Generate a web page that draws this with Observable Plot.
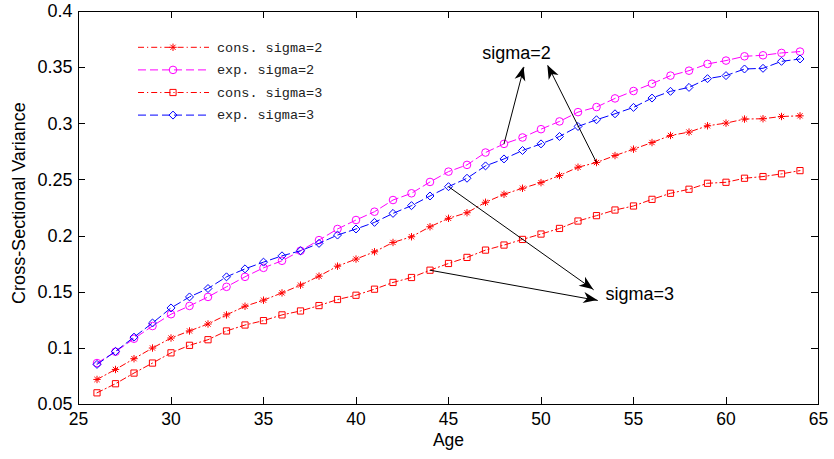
<!DOCTYPE html>
<html><head><meta charset="utf-8">
<script src="https://cdn.jsdelivr.net/npm/d3@7"></script>
<script src="https://cdn.jsdelivr.net/npm/@observablehq/plot@0.6"></script>
<style>body{margin:0;background:#fff}#chart svg{display:block}</style>
</head><body><div id="chart"></div>
<script>
// ---- data ----
const ages = [26,27,28,29,30,31,32,33,34,35,36,37,38,39,40,41,42,43,44,45,46,47,48,49,50,51,52,53,54,55,56,57,58,59,60,61,62,63,64];
const consSigma2 = [0.0723,0.0812,0.0908,0.1003,0.1092,0.1155,0.1217,0.1298,0.1375,0.1429,0.1494,0.1563,0.1643,0.1732,0.1795,0.1860,0.1943,0.1994,0.2083,0.2158,0.2208,0.2301,0.2372,0.2426,0.2476,0.2539,0.2613,0.2655,0.2717,0.2774,0.2833,0.2896,0.2926,0.2982,0.3006,0.3042,0.3045,0.3065,0.3071];
const expSigma2 = [0.0869,0.0970,0.1086,0.1199,0.1304,0.1378,0.1458,0.1548,0.1637,0.1717,0.1780,0.1869,0.1964,0.2063,0.2143,0.2217,0.2321,0.2381,0.2482,0.2574,0.2634,0.2744,0.2821,0.2878,0.2952,0.3021,0.3104,0.3149,0.3226,0.3292,0.3357,0.3429,0.3473,0.3533,0.3563,0.3601,0.3610,0.3631,0.3643];
const consSigma3 = [0.0604,0.0685,0.0780,0.0869,0.0960,0.1027,0.1077,0.1155,0.1208,0.1247,0.1298,0.1333,0.1381,0.1435,0.1473,0.1527,0.1587,0.1631,0.1696,0.1756,0.1810,0.1875,0.1920,0.1970,0.2018,0.2068,0.2134,0.2182,0.2232,0.2268,0.2327,0.2381,0.2417,0.2470,0.2479,0.2515,0.2530,0.2554,0.2583];
const expSigma3 = [0.0857,0.0973,0.1100,0.1226,0.1360,0.1458,0.1533,0.1637,0.1708,0.1768,0.1824,0.1869,0.1935,0.2009,0.2063,0.2122,0.2202,0.2271,0.2357,0.2440,0.2515,0.2625,0.2687,0.2762,0.2821,0.2887,0.2976,0.3036,0.3089,0.3146,0.3229,0.3289,0.3324,0.3402,0.3429,0.3488,0.3494,0.3556,0.3577];
const seriesNames = ["cons. sigma=2","exp. sigma=2","cons. sigma=3","exp. sigma=3"];
const xTicks = [25,30,35,40,45,50,55,60,65];
const yTicks = [0.05,0.1,0.15,0.2,0.25,0.3,0.35,0.4];
const xLabel = "Age";
const yLabel = "Cross-Sectional Variance";
// annotations (data coordinates)
const notes = [
  {label: "sigma=2", x: 48.68, y: 0.363},
  {label: "sigma=3", x: 53.49, y: 0.1481}
];
const arrows = [
  {series: 1, age: 48, tipX: 49.08, tipY: 0.3505},
  {series: 0, age: 53, tipX: 50.37, tipY: 0.3519},
  {series: 3, age: 45, tipX: 52.85, tipY: 0.1521},
  {series: 2, age: 44, tipX: 53.07, tipY: 0.1426}
];

// ---- styles ----
const star8 = {draw(ctx, size) {
  const r = Math.sqrt(size / Math.PI), d = r * Math.SQRT1_2;
  ctx.moveTo(-r, 0); ctx.lineTo(r, 0);
  ctx.moveTo(0, -r); ctx.lineTo(0, r);
  ctx.moveTo(-d, -d); ctx.lineTo(d, d);
  ctx.moveTo(-d, d); ctx.lineTo(d, -d);
}};
const values = [consSigma2, expSigma2, consSigma3, expSigma3];
const colors = ["#ff0000", "#ff00ff", "#ff0000", "#0000ff"];
const dashes = ["6,3,1.2,3", "8,4", "6,3,1.2,3", "8,4"];
const symbols = [star8, d3.symbolCircle, d3.symbolSquare, d3.symbolDiamond2];
const plotSymbols = [star8, "circle", "square", "diamond2"];
const radii = [3.7, 3.8, 3.5, 3.6];

const rows = seriesNames.map((s, k) => ages.map((a, i) => ({age: a, value: values[k][i], series: s})));

const seriesMarks = seriesNames.flatMap((s, k) => [
  Plot.line(rows[k], {x: "age", y: "value", stroke: colors[k], strokeWidth: 1, strokeDasharray: dashes[k]}),
  Plot.dot(rows[k], {x: "age", y: "value", symbol: plotSymbols[k], r: radii[k], stroke: colors[k], fill: "none", strokeWidth: 1})
]);

const arrowRows = arrows.map(a => ({x1: a.age, y1: values[a.series][ages.indexOf(a.age)], x2: a.tipX, y2: a.tipY}));

function arrowHeads(index, scales) {
  const g = d3.create("svg:g");
  for (const a of arrowRows) {
    const x1 = scales.x(a.x1), y1 = scales.y(a.y1), x2 = scales.x(a.x2), y2 = scales.y(a.y2);
    const ang = Math.atan2(y2 - y1, x2 - x1) * 180 / Math.PI;
    g.append("path").attr("d", "M0,0L-14,-5.5L-10,0L-14,5.5Z")
      .attr("transform", `translate(${x2},${y2}) rotate(${ang})`).attr("fill", "black");
  }
  return g.node();
}

// inward tick marks on all four sides (MATLAB box style)
function boxTicks(index, scales, vals, dims) {
  const g = d3.create("svg:g").attr("stroke", "black").attr("stroke-width", 1);
  const L = 7;
  const top = dims.marginTop, bottom = dims.height - dims.marginBottom;
  const left = dims.marginLeft, right = dims.width - dims.marginRight;
  for (const t of xTicks) {
    const x = Math.round(scales.x(t)) + 0.5;
    g.append("line").attr("x1", x).attr("x2", x).attr("y1", bottom).attr("y2", bottom - L);
    g.append("line").attr("x1", x).attr("x2", x).attr("y1", top).attr("y2", top + L);
  }
  for (const t of yTicks) {
    const y = Math.round(scales.y(t)) + 0.5;
    g.append("line").attr("y1", y).attr("y2", y).attr("x1", left).attr("x2", left + L);
    g.append("line").attr("y1", y).attr("y2", y).attr("x1", right).attr("x2", right - L);
  }
  return g.node();
}

function legend(index, scales, vals, dims) {
  const g = d3.create("svg:g");
  seriesNames.forEach((label, k) => {
    const y = dims.marginTop + 36.3 + k * 22.6;
    const x0 = dims.marginLeft + 60, x1 = dims.marginLeft + 131, xm = dims.marginLeft + 95;
    g.append("line").attr("x1", x0).attr("x2", x1).attr("y1", y).attr("y2", y)
      .attr("stroke", colors[k]).attr("stroke-width", 1).attr("stroke-dasharray", dashes[k]);
    g.append("path").attr("d", d3.symbol(symbols[k], Math.PI * radii[k] * radii[k])())
      .attr("transform", `translate(${xm},${y})`).attr("stroke", colors[k]).attr("fill", "none").attr("stroke-width", 1);
    g.append("text").attr("x", dims.marginLeft + 139).attr("y", y).attr("dy", "0.32em")
      .attr("text-anchor", "start")
      .attr("font-family", "'Liberation Mono', 'DejaVu Sans Mono', monospace").attr("font-size", 13.5)
      .attr("fill", "#222").text(label);
  });
  return g.node();
}

const fmt = d => String(+d.toFixed(2));

const chart = Plot.plot({
  width: 834, height: 459,
  marginLeft: 78, marginRight: 16, marginTop: 11, marginBottom: 55,
  style: {fontFamily: "'Liberation Sans', Arial, sans-serif", fontSize: "18px", color: "black", background: "white"},
  x: {domain: [25, 65]},
  y: {domain: [0.05, 0.4]},
  marks: [
    ...seriesMarks,
    Plot.link(arrowRows, {x1: "x1", y1: "y1", x2: "x2", y2: "y2", stroke: "black", strokeWidth: 1}),
    arrowHeads,
    Plot.text([notes[0]], {x: "x", y: "y", text: "label", fontSize: 18, textAnchor: "middle", fill: "black"}),
    Plot.text([notes[1]], {x: "x", y: "y", text: "label", fontSize: 18, textAnchor: "start", fill: "black"}),
    legend,
    Plot.frame({stroke: "black", strokeWidth: 1}),
    boxTicks,
    Plot.axisX({anchor: "bottom", ticks: xTicks, tickSize: 0, tickPadding: 8.5, fontSize: 17.5, label: null}),
    Plot.axisY({anchor: "left", ticks: yTicks, tickSize: 0, tickPadding: 6, tickFormat: fmt, fontSize: 18, label: null}),
    Plot.text([xLabel], {frameAnchor: "bottom", dy: 41, fontSize: 17.5, textAnchor: "middle", fill: "black"}),
    Plot.text([yLabel], {frameAnchor: "left", rotate: -90, dx: -59.5, dy: -5, fontSize: 18, textAnchor: "middle", fill: "black"})
  ]
});
document.getElementById("chart").append(chart);
</script>
</body></html>
